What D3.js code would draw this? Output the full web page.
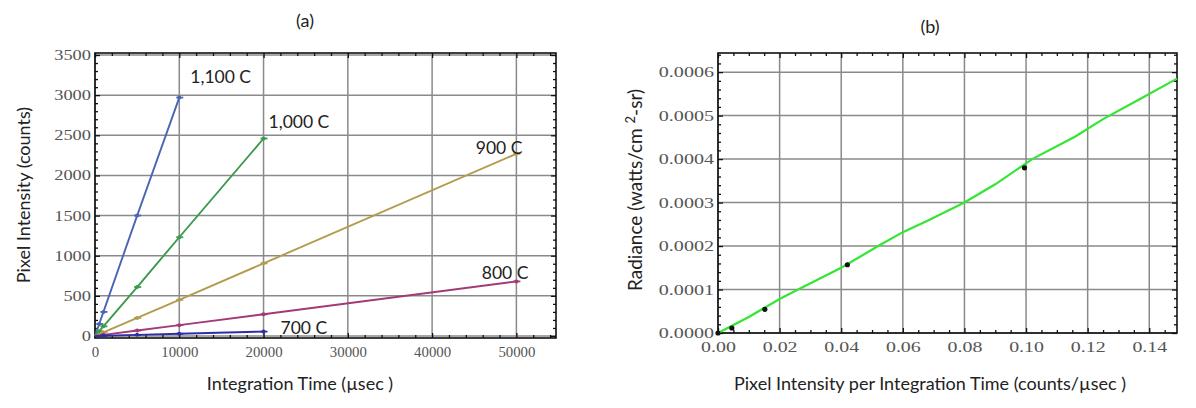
<!DOCTYPE html>
<html>
<head>
<meta charset="utf-8">
<script src="https://cdn.jsdelivr.net/npm/d3@7/dist/d3.min.js"></script>
<style>
  body { margin: 0; background: #fff; }
  svg { display: block; }
</style>
</head>
<body>
<svg id="chart" width="1196" height="408"></svg>
<script>
// ---- data: (a) pixel intensity vs integration time ----
const t1100 = [0, 500, 1000, 5000, 10000];
const v1100 = [0, 150, 300, 1500, 2970];
const t1000 = [0, 500, 1000, 5000, 10000, 20000];
const v1000 = [0, 60, 120, 610, 1230, 2460];
const t900 = [0, 1000, 5000, 10000, 20000, 50000];
const v900 = [0, 45, 225, 450, 905, 2270];
const t800 = [0, 1000, 5000, 10000, 20000, 50000];
const v800 = [0, 14, 68, 135, 270, 680];
const t700 = [0, 1000, 5000, 10000, 20000];
const v700 = [0, 3, 14, 28, 55];
const seriesNames = ["1,100 C", "1,000 C", "900 C", "800 C", "700 C"];

const aXTicks = [0, 10000, 20000, 30000, 40000, 50000];
const aYTicks = [0, 500, 1000, 1500, 2000, 2500, 3000, 3500];

// ---- data: (b) radiance vs counts per usec ----
const fitX = [0, 0.01, 0.02, 0.026, 0.04, 0.052, 0.06, 0.068, 0.08, 0.09, 0.102, 0.116, 0.125, 0.137, 0.149];
const fitY = [0, 0.000037, 0.000078, 0.0001, 0.00015, 0.0002, 0.000232, 0.000258, 0.0003, 0.000342, 0.0004, 0.000452, 0.000492, 0.000538, 0.000585];
const ptX = [0, 0.0045, 0.0152, 0.042, 0.0995];
const ptY = [0, 0.0000115, 0.0000545, 0.000157, 0.00038];

const bXTicks = [0, 0.02, 0.04, 0.06, 0.08, 0.10, 0.12, 0.14];
const bYTicks = [0, 0.0001, 0.0002, 0.0003, 0.0004, 0.0005, 0.0006];

const svg = d3.select("#chart");
const sans = "Lato, 'Open Sans', sans-serif";
const serif = "'Liberation Serif', 'DejaVu Serif', serif";

// draws grid, frame, inward ticks on four sides and tick labels
function frame(g, x, y, xt, yt, xMinor, yMinor, fmtX, fmtY, cwX, cwY) {
  const [x0, x1] = x.range(), [y0, y1] = y.range();
  g.append("g").selectAll("line").data(xt).join("line")
    .attr("x1", d => x(d)).attr("x2", d => x(d)).attr("y1", y0).attr("y2", y1)
    .attr("stroke", "#8a8a8a").attr("stroke-width", 1.5);
  g.append("g").selectAll("line").data(yt).join("line")
    .attr("y1", d => y(d)).attr("y2", d => y(d)).attr("x1", x0).attr("x2", x1)
    .attr("stroke", "#8a8a8a").attr("stroke-width", 1.5);

  const tk = (axis, ticks, size, tr) => g.append("g").attr("transform", tr)
    .call(axis.tickValues(ticks).tickSize(size).tickFormat(""))
    .call(s => s.select(".domain").remove())
    .call(s => s.selectAll("line").attr("stroke", "#111").attr("stroke-width", 1.3));
  tk(d3.axisBottom(x), xt, -5, `translate(0,${y0})`);
  tk(d3.axisBottom(x), xMinor, -3, `translate(0,${y0})`);
  tk(d3.axisTop(x), xt, -5, `translate(0,${y1})`);
  tk(d3.axisTop(x), xMinor, -3, `translate(0,${y1})`);
  tk(d3.axisLeft(y), yt, -5, `translate(${x0},0)`);
  tk(d3.axisLeft(y), yMinor, -3, `translate(${x0},0)`);
  tk(d3.axisRight(y), yt, -5, `translate(${x1},0)`);
  tk(d3.axisRight(y), yMinor, -3, `translate(${x1},0)`);

  g.append("rect").attr("x", x0).attr("y", y1).attr("width", x1 - x0).attr("height", y0 - y1)
    .attr("fill", "none").attr("stroke", "#111").attr("stroke-width", 1.6);

  const lab = (s, cw) => s.selectAll("text")
    .attr("fill", "#555").style("font-family", serif).style("font-size", "14px")
    .attr("lengthAdjust", "spacingAndGlyphs")
    .attr("textLength", function () { return this.textContent.length * cw; });
  g.append("g").attr("transform", `translate(0,${y0})`)
    .call(d3.axisBottom(x).tickValues(xt).tickSize(0).tickPadding(9).tickFormat(fmtX))
    .call(s => s.select(".domain").remove())
    .call(s => lab(s, cwX));
  g.append("g").attr("transform", `translate(${x0},0)`)
    .call(d3.axisLeft(y).tickValues(yt).tickSize(0).tickPadding(4).tickFormat(fmtY))
    .call(s => s.select(".domain").remove())
    .call(s => lab(s, cwY));
}

// ---- (a) ----
const xa = d3.scaleLinear().domain([0, 54700]).range([95, 556]);
const ya = d3.scaleLinear().domain([-25, 3525]).range([338, 53]);
const ga = svg.append("g");
frame(ga, xa, ya, aXTicks, aYTicks,
  d3.range(0, 54001, 2000).filter(v => v % 10000),
  d3.range(0, 3501, 100).filter(v => v % 500),
  d3.format("d"), d3.format("d"), 7.4, 9.2);

const aSeries = [
  { t: t1100, v: v1100, color: "#4a66b2", dx: 11, dy: -15, anchor: "start" },
  { t: t1000, v: v1000, color: "#3c9a4c", dx: 5, dy: -11, anchor: "start" },
  { t: t900, v: v900, color: "#b39c4e", dx: 6, dy: 0, anchor: "end" },
  { t: t800, v: v800, color: "#a33a78", dx: 12, dy: -2, anchor: "end" },
  { t: t700, v: v700, color: "#2e2ea6", dx: 17, dy: 2, anchor: "start" }
];
const line = d3.line().x(d => xa(d[0])).y(d => ya(d[1]));
aSeries.forEach((s, i) => {
  const pts = s.t.map((t, j) => [t, s.v[j]]);
  ga.append("path").datum(pts).attr("d", line)
    .attr("fill", "none").attr("stroke", s.color).attr("stroke-width", 1.9);
  ga.append("g").selectAll("line").data(pts.slice(1)).join("line")
    .attr("x1", d => xa(d[0]) - 3).attr("x2", d => xa(d[0]) + 4)
    .attr("y1", d => ya(d[1])).attr("y2", d => ya(d[1]))
    .attr("stroke", s.color).attr("stroke-width", 1.8);
  ga.append("g").selectAll("circle").data(pts.slice(1)).join("circle")
    .attr("cx", d => xa(d[0])).attr("cy", d => ya(d[1])).attr("r", 2)
    .attr("fill", s.color);
  const last = pts[pts.length - 1];
  ga.append("text")
    .attr("x", xa(last[0]) + s.dx).attr("y", ya(last[1]) + s.dy)
    .attr("text-anchor", s.anchor)
    .attr("font-family", sans).attr("font-size", 17.5).attr("fill", "#222")
    .text(seriesNames[i]);
});

ga.append("text").attr("x", 305).attr("y", 27).attr("text-anchor", "middle")
  .attr("font-family", sans).attr("font-size", 18).attr("fill", "#222").text("(a)");
ga.append("text").attr("transform", "translate(30,195) rotate(-90)").attr("text-anchor", "middle")
  .attr("font-family", sans).attr("font-size", 18).attr("fill", "#222").text("Pixel Intensity (counts)");
ga.append("text").attr("x", 300).attr("y", 390).attr("text-anchor", "middle")
  .attr("font-family", sans).attr("font-size", 18).attr("fill", "#222").text("Integration Time (\u00b5sec )");

// ---- (b) ----
const xb = d3.scaleLinear().domain([0, 0.149]).range([718, 1177]);
const yb = d3.scaleLinear().domain([0, 0.000644]).range([333, 53]);
const gb = svg.append("g");
frame(gb, xb, yb, bXTicks, bYTicks,
  d3.range(1, 30).map(i => i * 0.005).filter((v, i) => (i + 1) % 4),
  d3.range(1, 33).map(i => i * 0.00002).filter((v, i) => (i + 1) % 5),
  d3.format(".2f"), d3.format(".4f"), 8.7, 9.2);

const fit = fitX.map((x, i) => [x, fitY[i]]);
gb.append("path").datum(fit)
  .attr("d", d3.line().x(d => xb(d[0])).y(d => yb(d[1])))
  .attr("fill", "none").attr("stroke", "#33e633").attr("stroke-width", 2.2);
gb.append("g").selectAll("circle").data(ptX.map((x, i) => [x, ptY[i]])).join("circle")
  .attr("cx", d => xb(d[0])).attr("cy", d => yb(d[1])).attr("r", 2.6).attr("fill", "#111");

gb.append("text").attr("x", 930).attr("y", 33).attr("text-anchor", "middle")
  .attr("font-family", sans).attr("font-size", 18).attr("fill", "#222").text("(b)");
const yt = gb.append("text").attr("transform", "translate(642,190) rotate(-90)").attr("text-anchor", "middle")
  .attr("font-family", sans).attr("font-size", 19).attr("fill", "#222");
yt.append("tspan").text("Radiance (watts/cm ");
yt.append("tspan").attr("dy", -7).attr("font-size", 13).text("2");
yt.append("tspan").attr("dy", 7).text("-sr)");
gb.append("text").attr("x", 930).attr("y", 390).attr("text-anchor", "middle")
  .attr("font-family", sans).attr("font-size", 18).attr("fill", "#222")
  .text("Pixel Intensity per Integration Time (counts/\u00b5sec )");
</script>
</body>
</html>
